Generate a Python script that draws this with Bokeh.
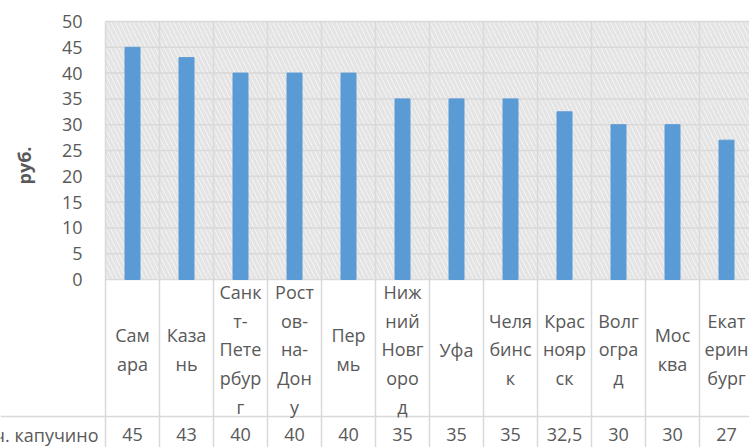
import math
from bokeh.plotting import figure
from bokeh.models import Range1d
from bokeh.embed import file_html
from bokeh.resources import INLINE
from bokeh.core.properties import value

# ---- data ----
cities = ["Сам\nара", "Каза\nнь", "Санк\nт-\nПете\nрбур\nг", "Рост\nов-\nна-\nДон\nу",
          "Пер\nмь", "Ниж\nний\nНовг\nоро\nд", "Уфа", "Челя\nбинс\nк",
          "Крас\nнояр\nск", "Волг\nогра\nд", "Мос\nква", "Екат\nерин\nбург"]
prices = [45, 43, 40, 40, 40, 35, 35, 35, 32.5, 30, 30, 27]
price_labels = ["45", "43", "40", "40", "40", "35", "35", "35", "32,5", "30", "30", "27"]
series_name = "Цена 1 ч. капучино"
y_ticks = [0, 5, 10, 15, 20, 25, 30, 35, 40, 45, 50]
y_title = "руб."

# ---- style / layout (pixel geometry of the chart) ----
FONT = "Open Sans"
FS = "18px"
TXT = "#595959"
GRID = "#D9D9D9"
BAR = "#5B9BD5"
W, H = 749, 447
COL = 54.0            # px per category column
PLOT_LEFT = 105       # px, left edge of plot area
ZERO_Y = 279          # px, baseline (value 0) from top
S = 258 / 50.0        # px per value unit
n = len(cities)


def xpx(px):          # page x in px -> data x
    return -0.5 + (px - PLOT_LEFT) / COL


def ypx(px):          # page y in px -> data y
    return (ZERO_Y - px) / S


x0, x1 = xpx(0), xpx(W)
y_top, y_bot = ypx(0), ypx(H)

p = figure(width=W, height=H, output_backend="svg", toolbar_location=None,
           x_range=Range1d(x0, x1), y_range=Range1d(y_bot, y_top),
           x_axis_location=None, y_axis_location=None, min_border=0,
           outline_line_color=None)
p.grid.visible = False

# hatched plot area
p.quad(left=-0.5, right=n - 0.5, bottom=y_ticks[0], top=y_ticks[-1],
       fill_color="white", line_color=None, hatch_pattern="\\",
       hatch_color="#E4E4E4", hatch_weight=3.5, hatch_scale=9)

# horizontal gridlines (plot area)
p.segment(x0=[-0.5] * len(y_ticks), y0=y_ticks, x1=[n - 0.5] * len(y_ticks), y1=y_ticks,
          line_color=GRID, line_width=1.5)
# vertical gridlines, continued through the data table
xs = [i - 0.5 for i in range(n + 1)]
p.segment(x0=xs, y0=[y_ticks[-1]] * len(xs), x1=xs, y1=[y_bot] * len(xs),
          line_color=GRID, line_width=1.5)
# data table row separator
p.segment(x0=[x0], y0=[ypx(416)], x1=[x1], y1=[ypx(416)],
          line_color=GRID, line_width=1.5)

# bars
p.vbar(x=list(range(n)), top=prices, bottom=0, width=15 / COL, color=BAR)

# y tick labels
p.text(x=[xpx(82)] * len(y_ticks), y=y_ticks, text=[str(t) for t in y_ticks],
       text_align="right", text_baseline="middle", text_font=value(FONT),
       text_font_size=FS, text_color=TXT)
# y axis title
p.text(x=[xpx(23)], y=[ypx(165)], text=[y_title], angle=math.pi / 2,
       text_align="center", text_baseline="middle", text_font=value(FONT),
       text_font_size=FS, text_font_style="bold", text_color=TXT)

# data table: category names
p.text(x=list(range(n)), y=[ypx(349)] * n, text=cities, text_align="center",
       text_baseline="middle", text_font=value(FONT), text_font_size=FS,
       text_color=TXT, text_line_height=1.2)
# data table: values
p.text(x=list(range(n)), y=[ypx(434)] * n, text=price_labels, text_align="center",
       text_baseline="middle", text_font=value(FONT), text_font_size=FS,
       text_color=TXT)
# data table: series name
p.text(x=[xpx(98)], y=[ypx(434)], text=[series_name], text_align="right",
       text_baseline="middle", text_font=value(FONT), text_font_size=FS,
       text_color=TXT)

open("out.html", "w").write(file_html(p, INLINE))
